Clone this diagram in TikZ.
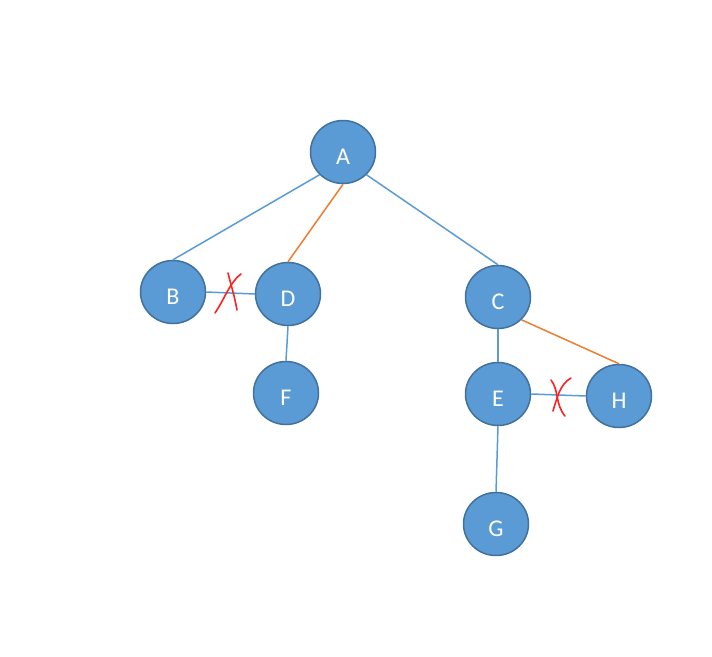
\documentclass[tikz,border=0pt]{standalone}
\usepackage{fontspec}
\setmainfont{Carlito}
\usetikzlibrary{shapes.geometric}
\definecolor{nodefill}{HTML}{5B9BD5}
\definecolor{nodeline}{HTML}{41719C}
\definecolor{edgeblue}{HTML}{5B9BD5}
\definecolor{edgeorange}{HTML}{ED7D31}
\definecolor{crossred}{HTML}{FF2020}
\tikzset{
  vertex/.style={ellipse, draw=nodeline, line width=1.5pt, fill=nodefill, minimum width=65pt, minimum height=63pt, inner sep=0pt, text=white, font=\fontsize{24}{26}\selectfont},
  bedge/.style={draw=edgeblue, line width=1.5pt},
  oedge/.style={draw=edgeorange, line width=1.5pt},
  cross/.style={draw=crossred, line width=1.6pt, line cap=round}
}
\newcommand{\lowtxt}[1]{\raisebox{-12.5pt}[0pt][0pt]{#1}}
\begin{document}
\begin{tikzpicture}[x=1pt,y=-1pt]
\useasboundingbox (0,0) rectangle (712,656);
\node[vertex] (A) at (343,152) {\lowtxt{A}};
\node[vertex] (B) at (173,292) {\lowtxt{B}};
\node[vertex] (D) at (288,294) {\lowtxt{D}};
\node[vertex] (F) at (286,393) {\lowtxt{F}};
\node[vertex] (C) at (498,297) {\lowtxt{C}};
\node[vertex] (E) at (498,394) {\lowtxt{E}};
\node[vertex] (H) at (619,396) {\lowtxt{H}};
\node[vertex] (G) at (496,524) {\lowtxt{G}};
\draw[bedge] (A.south west) -- (B.north);
\draw[oedge] (A.south) -- (D.north);
\draw[bedge] (A.south east) -- (C.north);
\draw[bedge] (B.east) -- (D.west);
\draw[bedge] (D.south) -- (F.north);
\draw[bedge] (C.south) -- (E.north);
\draw[oedge] (C.south east) -- (H.north);
\draw[bedge] (E.east) -- (H.west);
\draw[bedge] (E.south) -- (G.north);
% red crosses
\draw[cross] (228,273) .. controls (231,285) and (235,298) .. (237,310);
\draw[cross] (241,274) .. controls (230,282) and (224,300) .. (215,313);
\draw[cross] (551,380) .. controls (559,390) and (555,404) .. (565,416);
\draw[cross] (571,378) .. controls (560,384) and (557,398) .. (553,411);
\end{tikzpicture}
\end{document}
